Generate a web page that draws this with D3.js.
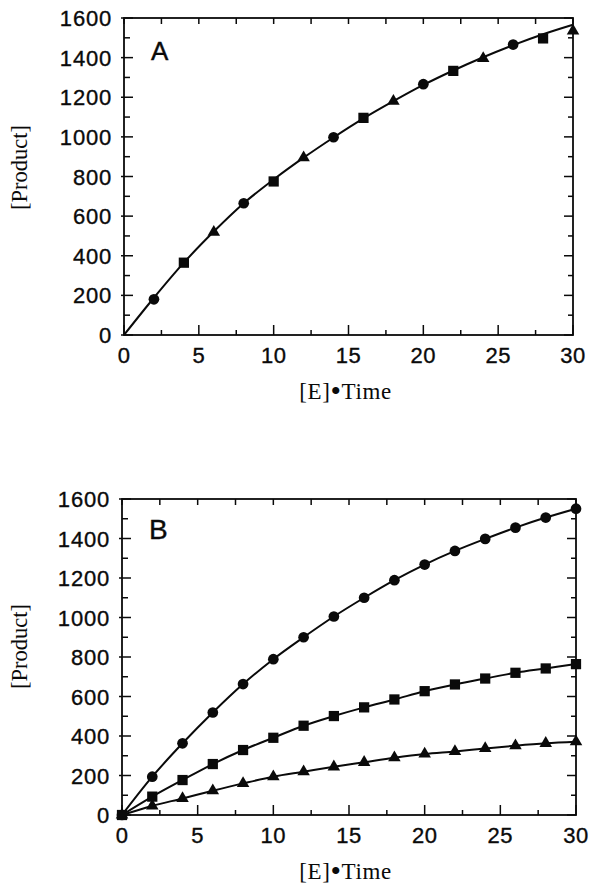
<!DOCTYPE html>
<html>
<head>
<meta charset="utf-8">
<script src="https://cdn.jsdelivr.net/npm/d3@7"></script>
<style>
  html, body { margin: 0; padding: 0; background: #fff; }
  svg { display: block; }
</style>
</head>
<body>
<svg id="chart" width="589" height="887"></svg>
<script>
// ---------- data ----------
const xTickValues = [0, 5, 10, 15, 20, 25, 30];
const yTickValues = [0, 200, 400, 600, 800, 1000, 1200, 1400, 1600];
const xTitleParts = ["[E]", "\u2022", "Time"];
const yTitle = "[Product]";

// Panel A: measured points (alternating markers) and fitted curve
const aTimes   = [2, 4, 6, 8, 10, 12, 14, 16, 18, 20, 22, 24, 26, 28, 30];
const aValues  = [180, 365, 519, 665, 775, 895, 998, 1096, 1180, 1266, 1333, 1396, 1466, 1497, 1535];
const aMarkers = ["circle", "square", "triangle", "circle", "square", "triangle", "circle", "square",
                  "triangle", "circle", "square", "triangle", "circle", "square", "triangle"];
const aFitTimes  = [0, 2, 4, 6, 8, 10, 12, 14, 16, 18, 20, 22, 24, 26, 28, 30];
const aFitValues = [0, 188, 365, 522, 665, 785, 895, 997, 1093, 1180, 1262, 1335, 1402, 1463, 1518, 1566];

// Panel B: three series
const bTimes     = [0, 2, 4, 6, 8, 10, 12, 14, 16, 18, 20, 22, 24, 26, 28, 30];
const bCircles   = [0, 194, 363, 519, 663, 789, 900, 1005, 1100, 1189, 1268, 1337, 1398, 1455, 1506, 1551];
const bSquares   = [0, 93, 177, 258, 329, 391, 452, 501, 545, 585, 627, 661, 691, 720, 742, 764];
const bTriangles = [0, 46, 84, 123, 160, 194, 219, 244, 267, 290, 309, 322, 337, 351, 363, 371];

// ---------- drawing ----------
const svg = d3.select("#chart");
const ink = "#0a0a0a";
const symbolType = { circle: d3.symbolCircle, square: d3.symbolSquare, triangle: d3.symbolTriangle };
const symbolSize = { circle: 90, square: 105, triangle: 68 };

function drawPanel(cfg) {
  const x = d3.scaleLinear().domain([0, 30]).range([cfg.left, cfg.right]);
  const y = d3.scaleLinear().domain([0, 1600]).range([cfg.bottom, cfg.top]);
  const g = svg.append("g");

  const minorX = d3.range(0, 30.01, 2.5);
  const minorY = d3.range(0, 1600.01, 100);

  // ticks
  const tick = g.append("g").attr("stroke", ink).attr("stroke-width", 1.5);
  minorX.forEach(v => {
    const major = v % 5 === 0;
    tick.append("line").attr("x1", x(v)).attr("x2", x(v))
      .attr("y1", y(0)).attr("y2", y(0) - (major ? 10 : 5));
    tick.append("line").attr("x1", x(v)).attr("x2", x(v))
      .attr("y1", y(1600)).attr("y2", y(1600) + 6);
  });
  minorY.forEach(v => {
    const major = v % 200 === 0;
    tick.append("line").attr("y1", y(v)).attr("y2", y(v))
      .attr("x1", x(0) - (major ? 3 : 0)).attr("x2", x(0) + (major ? 9 : 6));
    tick.append("line").attr("y1", y(v)).attr("y2", y(v))
      .attr("x1", x(30)).attr("x2", x(30) - (major ? 9 : 5));
  });

  // frame
  g.append("rect")
    .attr("x", cfg.left).attr("y", cfg.top)
    .attr("width", cfg.right - cfg.left).attr("height", cfg.bottom - cfg.top)
    .attr("fill", "none").attr("stroke", ink).attr("stroke-width", 1.8);

  // tick labels
  g.append("g").selectAll("text").data(xTickValues).join("text")
    .attr("x", d => x(d)).attr("y", cfg.bottom + 28)
    .attr("text-anchor", "middle")
    .attr("font-family", "'Liberation Sans', Arial, sans-serif")
    .attr("font-size", 22).attr("letter-spacing", 0.5)
    .attr("fill", ink).attr("stroke", ink).attr("stroke-width", 0.35)
    .text(d => d);
  g.append("g").selectAll("text").data(yTickValues).join("text")
    .attr("x", cfg.left - 12).attr("y", d => y(d) + 8)
    .attr("text-anchor", "end")
    .attr("font-family", "'Liberation Sans', Arial, sans-serif")
    .attr("font-size", 22).attr("letter-spacing", 0.8)
    .attr("fill", ink).attr("stroke", ink).attr("stroke-width", 0.35)
    .text(d => d);

  // axis titles
  const xt = g.append("text")
    .attr("x", 345.5).attr("y", cfg.bottom + 64)
    .attr("text-anchor", "middle")
    .attr("font-family", "'Liberation Serif', 'Times New Roman', serif")
    .attr("font-size", 23).attr("letter-spacing", 0.6).attr("fill", ink);
  xt.append("tspan").text(xTitleParts[0]);
  xt.append("tspan").attr("font-size", 30).attr("dy", 2).text(xTitleParts[1]);
  xt.append("tspan").attr("dy", -2).text(xTitleParts[2]);

  g.append("text")
    .attr("transform", `translate(27,${cfg.yTitleCenter}) rotate(-90)`)
    .attr("text-anchor", "middle")
    .attr("font-family", "'Liberation Serif', 'Times New Roman', serif")
    .attr("font-size", 22.5).attr("fill", ink)
    .text(yTitle);

  // panel letter
  g.append("text")
    .attr("x", cfg.left + 27).attr("y", cfg.top + cfg.letterDy)
    .attr("font-family", "'Liberation Sans', Arial, sans-serif")
    .attr("font-size", cfg.letterSize).attr("fill", ink)
    .attr("stroke", ink).attr("stroke-width", 0.4)
    .text(cfg.letter);

  return { g, x, y };
}

// Panel A
{
  const { g, x, y } = drawPanel({ left: 124, right: 573, top: 18, bottom: 335,
    yTitleCenter: 167.5, letter: "A", letterDy: 42, letterSize: 26 });
  const line = d3.line().x((d, i) => x(aFitTimes[i])).y(d => y(d)).curve(d3.curveMonotoneX);
  g.append("path").attr("d", line(aFitValues))
    .attr("fill", "none").attr("stroke", ink).attr("stroke-width", 2);
  g.append("g").selectAll("path").data(aValues).join("path")
    .attr("transform", (d, i) => `translate(${x(aTimes[i])},${y(d)})`)
    .attr("d", (d, i) => d3.symbol(symbolType[aMarkers[i]], symbolSize[aMarkers[i]])())
    .attr("fill", ink);
}

// Panel B
{
  const { g, x, y } = drawPanel({ left: 122, right: 576, top: 499, bottom: 815,
    yTitleCenter: 646.5, letter: "B", letterDy: 40, letterSize: 28 });
  const series = [
    { values: bTriangles, type: "triangle" },
    { values: bCircles, type: "circle" },
    { values: bSquares, type: "square" }
  ];
  const line = d3.line().x((d, i) => x(bTimes[i])).y(d => y(d)).curve(d3.curveMonotoneX);
  series.forEach(s => {
    g.append("path").attr("d", line(s.values))
      .attr("fill", "none").attr("stroke", ink).attr("stroke-width", 2);
  });
  series.forEach(s => {
    g.append("g").selectAll("path").data(s.values).join("path")
      .attr("transform", (d, i) => `translate(${x(bTimes[i])},${y(d)})`)
      .attr("d", d3.symbol(symbolType[s.type], symbolSize[s.type])())
      .attr("fill", ink);
  });
}
</script>
</body>
</html>
